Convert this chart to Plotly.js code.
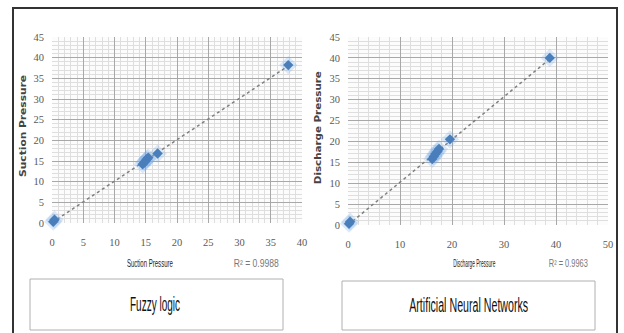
<!DOCTYPE html>
<html><head><meta charset="utf-8">
<script src="https://cdn.plot.ly/plotly-3.0.1.min.js"></script>
<style>html,body{margin:0;padding:0;background:#fff}#c{width:624px;height:333px}</style>
</head><body><div id="c"></div>
<script>
// Fuzzy logic: suction pressure (actual vs predicted)
const fuzzyX = [0.2, 0.4, 14.5, 14.8, 15.0, 15.2, 15.4, 16.9, 37.8];
const fuzzyY = [0.3, 0.8, 14.2, 14.7, 15.1, 15.5, 15.8, 16.8, 38.2];
// Artificial neural networks: discharge pressure
const annX = [0.2, 0.4, 16.2, 16.5, 16.8, 17.2, 17.5, 19.6, 38.8];
const annY = [0.3, 0.8, 15.8, 16.4, 17.0, 17.6, 18.2, 20.5, 40.0];
const fuzzyR2 = "R² = 0.9988";
const annR2 = "R² = 0.9963";
const fuzzyTitle = "Suction Pressure";
const annTitle = "Discharge Pressure";
const boxLabels = ["Fuzzy logic", "Artificial Neural Networks"];

function fit(xs, ys) {
  const n = xs.length;
  let sx=0, sy=0, sxx=0, sxy=0;
  for (let i=0;i<n;i++){sx+=xs[i];sy+=ys[i];sxx+=xs[i]*xs[i];sxy+=xs[i]*ys[i];}
  const b=(n*sxy-sx*sy)/(n*sxx-sx*sx); const a=(sy-b*sx)/n;
  const x0=0, x1=Math.max(...xs);
  return {x:[x0,x1], y:[a+b*x0, a+b*x1]};
}
const tf = fit(fuzzyX, fuzzyY), ta = fit(annX, annY);
const blue = '#4a7ebb';
const halo = 'rgba(120,170,230,0.25)';
const traces = [
  {x: tf.x, y: tf.y, xaxis:'x', yaxis:'y', mode:'lines', line:{color:'#7f7f7f', width:1.5, dash:'dot'}, cliponaxis:false},
  {x: fuzzyX, y: fuzzyY, xaxis:'x', yaxis:'y', mode:'markers', marker:{symbol:'diamond', size:14, color:halo}, cliponaxis:false},
  {x: fuzzyX, y: fuzzyY, xaxis:'x', yaxis:'y', mode:'markers', marker:{symbol:'diamond', size:8, color:blue}, cliponaxis:false},
  {x: ta.x, y: ta.y, xaxis:'x2', yaxis:'y2', mode:'lines', line:{color:'#7f7f7f', width:1.5, dash:'dot'}, cliponaxis:false},
  {x: annX, y: annY, xaxis:'x2', yaxis:'y2', mode:'markers', marker:{symbol:'diamond', size:14, color:halo}, cliponaxis:false},
  {x: annX, y: annY, xaxis:'x2', yaxis:'y2', mode:'markers', marker:{symbol:'diamond', size:8, color:blue}, cliponaxis:false}
];
const tickFont = {family:'"Liberation Serif",serif', size:10.5, color:'#595959'};
function ax(domain, range, dtick, mdtick, anchor, tlen){
  return {domain:domain, range:range, dtick:dtick, tick0:0, anchor:anchor, showgrid:true, gridcolor:'#a8a8a8', gridwidth:1,
    zeroline:false, showline:false, ticks:'outside', ticklen:tlen, tickcolor:'rgba(0,0,0,0)', tickfont:tickFont, fixedrange:true,
    minor:{dtick:mdtick, tick0:0, showgrid:true, gridcolor:'#dedede', gridwidth:1, ticks:''}};
}
const W=624, H=333;
const px = v => v/W, py = v => 1 - v/H;
const narrow = '"Liberation Sans",sans-serif';
const A = (x, y, text, font, extra) => Object.assign({xref:'paper', yref:'paper', x:px(x), y:py(y), text:text, showarrow:false, xanchor:'center', yanchor:'middle', font:font}, extra||{});
const layout = {
  width:W, height:H, margin:{l:0,r:0,t:0,b:0}, showlegend:false,
  paper_bgcolor:'#fff', plot_bgcolor:'#fcfcfc',
  xaxis: ax([px(52), px(302)], [0,40], 5, 1, 'y', 9),
  yaxis: ax([py(223), py(37)], [0,45], 5, 1, 'x', 5),
  xaxis2: ax([px(348), px(608)], [0,50], 10, 2, 'y2', 9),
  yaxis2: ax([py(225), py(37)], [0,45], 5, 1, 'x2', 5),
  shapes: [
    {type:'rect', xref:'paper', yref:'paper', x0:px(13), x1:px(617), y0:py(345), y1:py(8), line:{color:'#333', width:2}},
    {type:'rect', xref:'paper', yref:'paper', x0:px(30), x1:px(283), y0:py(330), y1:py(279), line:{color:'#b0b0b0', width:1}},
    {type:'rect', xref:'paper', yref:'paper', x0:px(342), x1:px(595), y0:py(330), y1:py(281), line:{color:'#b0b0b0', width:1}}
  ],
  annotations: [
    A(150, 263, fuzzyTitle, {family:narrow, size:11, color:'#222'}),
    A(256, 263, fuzzyR2, {family:narrow, size:10, color:'#777'}),
    A(23, 126, '<b>'+fuzzyTitle+'</b>', {family:'"DejaVu Sans",sans-serif', size:9, color:'#444'}, {textangle:-90}),
    A(474, 263, annTitle, {family:narrow, size:11, color:'#222'}),
    A(568, 263, annR2, {family:narrow, size:10, color:'#777'}),
    A(318, 128, '<b>'+annTitle+'</b>', {family:'"DejaVu Sans",sans-serif', size:9, color:'#444'}, {textangle:-90}),
    A(155, 304, boxLabels[0], {family:narrow, size:20, color:'#111'}),
    A(468, 305, boxLabels[1], {family:narrow, size:20, color:'#111'})
  ]
};
// target rendered text lengths (px), to mimic the condensed face of the original
const lenList = [46, 45, 102, 42, 39, 113, 50, 119];
Plotly.newPlot('c', traces, layout, {staticPlot:true, displayModeBar:false}).then(gd => {
  gd.querySelectorAll('.annotation').forEach(g => {
    const i = +g.getAttribute('data-index');
    const t = g.querySelector('.annotation-text');
    if (!t || isNaN(i) || !lenList[i]) return;
    t.setAttribute('textLength', lenList[i]);
    t.setAttribute('lengthAdjust', 'spacingAndGlyphs');
  });
});
</script></body></html>
